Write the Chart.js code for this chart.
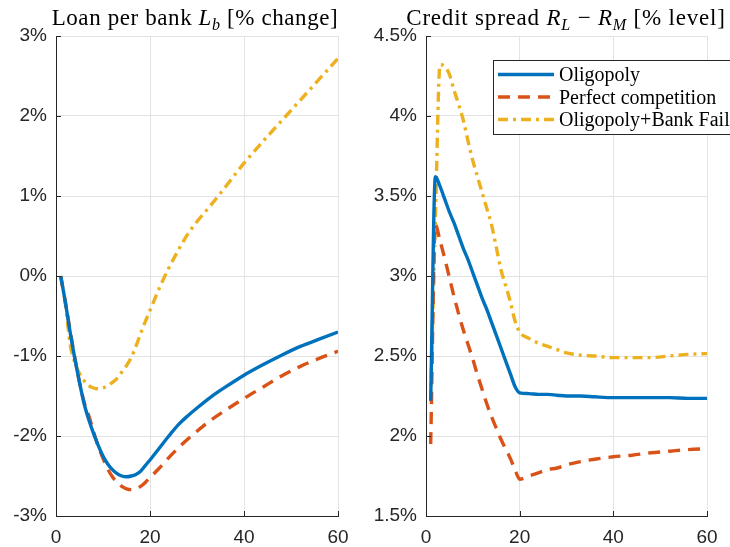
<!DOCTYPE html>
<html lang="en">
  <head>
    <meta charset="UTF-8" />
    <title>Loan per bank and credit spread</title>
    <script src="https://cdn.jsdelivr.net/npm/chart.js"></script>
    <style>
      body {
        margin: 0;
        width: 730px;
        height: 547px;
        position: relative;
        overflow: hidden;
        background: #fff;
      }
      .panel {
        position: absolute;
        top: 0;
        width: 365px;
        height: 547px;
      }
      .title {
        position: absolute;
        top: 6px;
        font-family: "Liberation Serif", "Times New Roman", serif;
        font-size: 23px;
        line-height: 23px;
        letter-spacing: 0.6px;
        color: #000;
        white-space: nowrap;
        transform: translateX(-50%);
      }
      .title sub {
        font-size: 0.7em;
        vertical-align: baseline;
        position: relative;
        top: 0.28em;
        font-style: italic;
      }
    </style>
  </head>
  <body>
    <div class="panel" style="left: 0"><canvas id="loan" width="365" height="547"></canvas></div>
    <div class="panel" style="left: 365px"><canvas id="spread" width="365" height="547"></canvas></div>
    <div class="title" style="left: 195px">Loan per bank <i>L</i><sub>b</sub> [% change]</div>
    <div class="title" style="left: 566px; letter-spacing: 0.8px">Credit spread <i>R</i><sub>L</sub> &minus; <i>R</i><sub>M</sub> [% level]</div>

    <script>
      // quarters after the shock
      const periods = [1, 2, 3, 4, 5, 6, 7, 8, 9, 10, 11, 12, 13, 14, 15, 16, 17, 18, 19, 20,
                       22, 24, 26, 28, 30, 33, 36, 40, 44, 48, 52, 56, 60];

      // Loan per bank, % change
      const loanOligopoly = [0, -0.33, -0.70, -1.03, -1.33, -1.60, -1.80, -1.97, -2.12, -2.25,
        -2.35, -2.42, -2.47, -2.50, -2.51, -2.50, -2.48, -2.44, -2.37, -2.30,
        -2.15, -2.00, -1.86, -1.75, -1.65, -1.51, -1.39, -1.24, -1.11, -0.99, -0.88, -0.79, -0.70];
      const loanPerfect = [0, -0.33, -0.68, -1.02, -1.33, -1.58, -1.75, -1.95, -2.13, -2.28,
        -2.41, -2.51, -2.58, -2.63, -2.66, -2.67, -2.66, -2.63, -2.58, -2.52,
        -2.40, -2.27, -2.15, -2.04, -1.94, -1.80, -1.68, -1.53, -1.39, -1.25, -1.13, -1.03, -0.94];
      const loanBankFail = [0, -0.35, -0.85, -1.08, -1.22, -1.31, -1.37, -1.40, -1.41, -1.40,
        -1.37, -1.33, -1.28, -1.20, -1.12, -1.02, -0.88, -0.72, -0.57, -0.43,
        -0.15, 0.10, 0.32, 0.52, 0.68, 0.89, 1.11, 1.41, 1.68, 1.94, 2.20, 2.46, 2.72];

      // Credit spread R_L - R_M, % level
      const spreadOligopoly = [2.22, 3.62, 3.56, 3.48, 3.40, 3.33, 3.25, 3.17, 3.10, 3.02,
        2.94, 2.86, 2.79, 2.71, 2.63, 2.55, 2.47, 2.39, 2.31, 2.27,
        2.265, 2.26, 2.26, 2.255, 2.25, 2.25, 2.245, 2.24, 2.24, 2.24, 2.24, 2.235, 2.235];
      const spreadPerfect = [1.95, 3.32, 3.22, 3.11, 2.99, 2.87, 2.76, 2.66, 2.57, 2.48,
        2.38, 2.29, 2.20, 2.12, 2.05, 1.98, 1.92, 1.86, 1.79, 1.73,
        1.75, 1.77, 1.79, 1.80, 1.82, 1.84, 1.855, 1.87, 1.88, 1.895, 1.905, 1.915, 1.92];
      const spreadBankFail = [2.22, 3.35, 4.32, 4.31, 4.26, 4.16, 4.07, 3.97, 3.84, 3.72,
        3.62, 3.52, 3.42, 3.32, 3.18, 3.04, 2.94, 2.84, 2.72, 2.65,
        2.61, 2.58, 2.56, 2.54, 2.52, 2.505, 2.50, 2.49, 2.49, 2.49, 2.50, 2.51, 2.515];

      const seriesNames = ["Oligopoly", "Perfect competition", "Oligopoly+Bank Fail"];

      const xTicks = [0, 20, 40, 60];
      const xTickLabels = ["0", "20", "40", "60"];
      const loanTicks = [-3, -2, -1, 0, 1, 2, 3];
      const loanTickLabels = ["-3%", "-2%", "-1%", "0%", "1%", "2%", "3%"];
      const spreadTicks = [1.5, 2, 2.5, 3, 3.5, 4, 4.5];
      const spreadTickLabels = ["1.5%", "2%", "2.5%", "3%", "3.5%", "4%", "4.5%"];

      const styles = [
        { color: "#0072BD", dash: [] },
        { color: "#D95319", dash: [12, 8] },
        { color: "#EDB120", dash: [10, 5, 3, 5] },
      ];
      const axisColor = "#262626";
      const gridColor = "#e3e3e3";
      const tickFont = { family: "'Liberation Sans', Arial, sans-serif", size: 19 };

      function toPoints(values) {
        return values.map((v, i) => ({ x: periods[i], y: v }));
      }

      function makeDatasets(seriesList) {
        return seriesList.map((values, i) => ({
          label: seriesNames[i],
          data: toPoints(values),
          borderColor: styles[i].color,
          borderDash: styles[i].dash,
          borderWidth: 3.4,
          pointRadius: 0,
          fill: false,
          cubicInterpolationMode: "monotone",
        }));
      }

      // MATLAB style: ticks inside the box, axes on top
      const innerTicks = {
        id: "innerTicks",
        afterDraw(chart) {
          const { ctx, chartArea, scales } = chart;
          ctx.save();
          ctx.strokeStyle = axisColor;
          ctx.lineWidth = 1;
          ctx.setLineDash([]);
          ctx.beginPath();
          ctx.moveTo(chartArea.left + 0.5, chartArea.top);
          ctx.lineTo(chartArea.left + 0.5, chartArea.bottom + 0.5);
          ctx.lineTo(chartArea.right, chartArea.bottom + 0.5);
          scales.y.ticks.forEach((t) => {
            const y = Math.round(scales.y.getPixelForValue(t.value)) + 0.5;
            ctx.moveTo(chartArea.left, y);
            ctx.lineTo(chartArea.left + 5, y);
          });
          scales.x.ticks.forEach((t) => {
            const x = Math.round(scales.x.getPixelForValue(t.value)) + 0.5;
            ctx.moveTo(x, chartArea.bottom);
            ctx.lineTo(x, chartArea.bottom - 5);
          });
          ctx.stroke();
          ctx.restore();
        },
      };

      const boxLegend = {
        id: "boxLegend",
        afterDraw(chart) {
          const ctx = chart.ctx;
          const left = 128, top = 60, bottom = 134;
          ctx.save();
          ctx.fillStyle = "#fff";
          ctx.fillRect(left, top, 300, bottom - top);
          ctx.strokeStyle = axisColor;
          ctx.lineWidth = 1;
          ctx.setLineDash([]);
          ctx.strokeRect(left + 0.5, top + 0.5, 300, bottom - top);
          ctx.font = '20px "Liberation Serif", "Times New Roman", serif';
          ctx.textBaseline = "alphabetic";
          ctx.fillStyle = "#000";
          const rows = [74.5, 97, 119.5];
          chart.data.datasets.forEach((ds, i) => {
            const y = rows[i];
            ctx.strokeStyle = ds.borderColor;
            ctx.lineWidth = 3.4;
            ctx.setLineDash(ds.borderDash);
            ctx.beginPath();
            ctx.moveTo(133, y);
            ctx.lineTo(189, y);
            ctx.stroke();
            ctx.fillText(ds.label, 194, y + 6.5);
          });
          ctx.restore();
        },
      };

      function makeChart(canvasId, seriesList, yMin, yMax, yTicks, yLabels, yWidth, padRight, plugins) {
        return new Chart(document.getElementById(canvasId), {
          type: "line",
          data: { datasets: makeDatasets(seriesList) },
          options: {
            responsive: false,
            animation: false,
            layout: { padding: { top: 36, right: padRight, left: 0, bottom: 0 } },
            plugins: { legend: { display: false }, title: { display: false }, tooltip: { enabled: false } },
            scales: {
              x: {
                type: "linear",
                min: 0,
                max: 60,
                afterBuildTicks: (s) => { s.ticks = xTicks.map((v) => ({ value: v })); },
                afterFit: (s) => { s.height = 31; },
                ticks: {
                  callback: (v, i) => xTickLabels[i],
                  font: tickFont,
                  color: axisColor,
                  padding: 10,
                  maxRotation: 0,
                },
                grid: { color: gridColor, drawTicks: false },
                border: { color: axisColor },
              },
              y: {
                min: yMin,
                max: yMax,
                afterBuildTicks: (s) => { s.ticks = yTicks.map((v) => ({ value: v })); },
                afterFit: (s) => { s.width = yWidth; },
                ticks: {
                  callback: (v, i) => yLabels[i],
                  font: tickFont,
                  color: axisColor,
                  padding: 9,
                },
                grid: { color: gridColor, drawTicks: false },
                border: { color: axisColor },
              },
            },
          },
          plugins: plugins,
        });
      }

      makeChart("loan", [loanOligopoly, loanPerfect, loanBankFail], -3, 3,
        loanTicks, loanTickLabels, 56, 27, [innerTicks]);
      makeChart("spread", [spreadOligopoly, spreadPerfect, spreadBankFail], 1.5, 4.5,
        spreadTicks, spreadTickLabels, 61, 23, [innerTicks, boxLegend]);
    </script>
  </body>
</html>
